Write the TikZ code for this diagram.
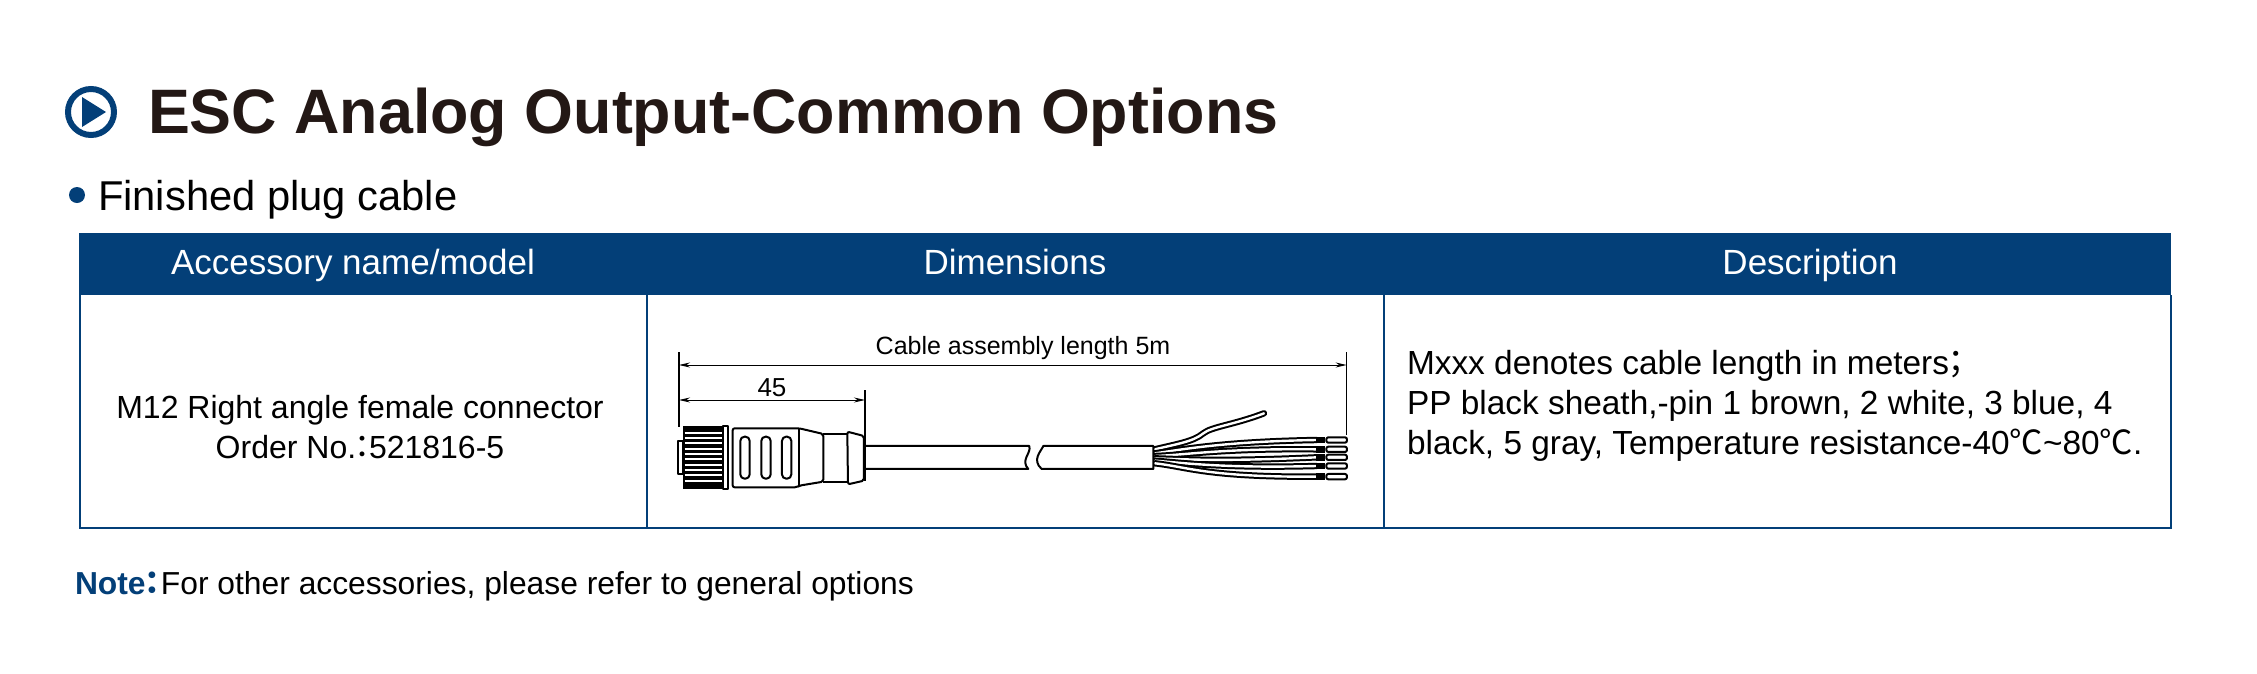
\documentclass[tikz,border=0pt]{standalone}
\usepackage{fontspec}
\setmainfont{Liberation Sans}
\newfontfamily\cjk{Noto Sans CJK JP}
\definecolor{navy}{HTML}{033F78}
\definecolor{ink}{HTML}{231815}
\newcommand{\fs}[1]{\fontsize{#1}{#1}\selectfont}
\newcommand{\wcolon}{\hspace{-.3em}{\cjk ：}\hspace{-.3em}}
\usetikzlibrary{arrows.meta}
\tikzset{
  txt/.style={inner sep=0pt,outer sep=0pt,text=black},
  head/.style={txt,text=white,font=\fs{35},anchor=base},
  cell/.style={txt,font=\fs{32},anchor=base},
  desc/.style={txt,font=\fs{33.4},anchor=base west},
  dim/.style={line width=1pt,{Stealth[length=11pt,width=5pt]}-{Stealth[length=11pt,width=5pt]}},
  ext/.style={line width=1.4pt},
  part/.style={line width=2pt,line join=round},
  wire/.style={line cap=round,line join=round}
}
\newcommand{\wirepath}[1]{%
  \draw[wire,line width=6.4pt,black] #1;
  \draw[wire,line width=2.4pt,white] #1;}
\begin{document}
\begin{tikzpicture}[x=1pt,y=-1pt]
\useasboundingbox (0,0) rectangle (2257,673);
\fill[white] (0,0) rectangle (2257,673);
% title
\draw[navy,line width=6pt] (91,112) circle (23);
\fill[navy] (82,97) -- (106,112) -- (82,127) -- cycle;
\node[txt,text=ink,font=\fs{62.8}\bfseries,anchor=base west] (title) at (148,133) {ESC Analog Output-Common Options};
\fill[navy] (77,195) circle (8);
\node[txt,font=\fs{41.7},anchor=base west] (sub) at (98,210) {Finished plug cable};
% table
\fill[navy] (79,233) rectangle (2171,295);
\draw[navy,line width=2.4pt] (80,295) -- (80,528) -- (2171,528) -- (2171,295);
\draw[navy,line width=2.4pt] (647,295) -- (647,528);
\draw[navy,line width=2.4pt] (1384,295) -- (1384,528);
\node[head] (h1) at (353,274) {Accessory name/model};
\node[head] (h2) at (1015,274) {Dimensions};
\node[head] (h3) at (1810,274) {Description};
\node[cell] (m1) at (360,418) {M12 Right angle female connector};
\node[cell] (m2) at (360,458) {Order No.\wcolon 521816-5};
\node[desc] (d1) at (1407,374) {Mxxx denotes cable length in meters\hspace{-.3em}{\cjk ；}};
\node[desc] (d2) at (1407,414) {PP black sheath,-pin 1 brown, 2 white, 3 blue, 4};
\node[desc] (d3) at (1407,454) {black, 5 gray, Temperature resistance-40{\cjk ℃}\textasciitilde 80{\cjk ℃}.};
\node[txt,font=\fs{31.8},anchor=base west] (note) at (75,594) {\textcolor{navy}{\bfseries Note\hspace{-.3em}{\cjk ：}\hspace{-.22em}}For other accessories, please refer to general options};
% left part of drawing
\begin{scope}[shift={(640,320)},x=0.3333pt,y=-0.3333pt]
\coordinate (a) at (117,135);
\coordinate (b) at (117,240);
\coordinate (c) at (675,240);
\draw[ext] (117,97) -- (117,320);
\draw[ext,line width=2pt] (675,210) -- (675,482);
\draw[dim] (b) -- (c);
\node[txt,font=\fs{26},anchor=base] (n45) at (396,229) {45};
% nut
\draw[part,fill=white] (115,362) -- (130,362) -- (130,462) -- (115,462) -- cycle;
\fill[black] (130,318) rectangle (250,508);
\foreach \yy in {338,354,370,386,402,418,434,450,466,482}{
  \draw[white,line width=2.2pt] (134,\yy) -- (245,\yy);}
\draw[part,fill=white] (250,318) rectangle (265,506);
% body
\draw[part,fill=white,rounded corners=2pt] (278,325) -- (478,325) -- (550,342) -- (550,485) -- (478,497) -- (470,502) -- (278,502) -- cycle;
\draw[part] (478,325) -- (478,497);
\foreach \xx in {315,378,440}{
  \draw[part,rounded corners=4.2pt] (\xx-14,350) rectangle (\xx+14,476);}
\draw[part] (550,342) -- (622,342);
\draw[part] (550,485) -- (622,485);
\draw[part,fill=white,rounded corners=2pt] (622,335) -- (672,348) -- (672,482) -- (624,493) -- cycle;
% cable left piece
\draw[part] (678,378) -- (1168,378) .. controls (1175,400) and (1140,420) .. (1165,447) -- (678,447);
\end{scope}
\begin{scope}[shift={(1020,320)},x=0.3333pt,y=-0.3333pt]
\coordinate (e) at (980,135);
\draw[ext] (980,97) -- (980,345);
\wirepath{(405,388) .. controls (470,372) and (520,365) .. (550,340) .. controls (575,320) and (640,315) .. (732,280)}
\wirepath{(405,400) .. controls (480,390) and (600,365) .. (890,360)}
\wirepath{(405,408) .. controls (500,405) and (600,385) .. (890,388)}
\wirepath{(405,415) .. controls (500,418) and (600,425) .. (890,412)}
\wirepath{(405,422) .. controls (500,430) and (620,445) .. (890,438)}
\wirepath{(405,430) .. controls (500,440) and (560,472) .. (890,470)}
\foreach \yy in {360,388,412,438,470}{
  \fill[black] (888,\yy-10) rectangle (915,\yy+10);
  \draw[part,fill=white,rounded corners=2pt] (919,\yy-8) rectangle (981,\yy+8);}
\draw[part,fill=white] (400,378) -- (70,378) .. controls (62,395) and (35,420) .. (65,447) -- (400,447) -- cycle;
\end{scope}
\draw[dim] (a) -- (e);
\node[txt,font=\fs{25},anchor=base] (cal) at (1023,354) {Cable assembly length 5m};
\end{tikzpicture}
\end{document}
